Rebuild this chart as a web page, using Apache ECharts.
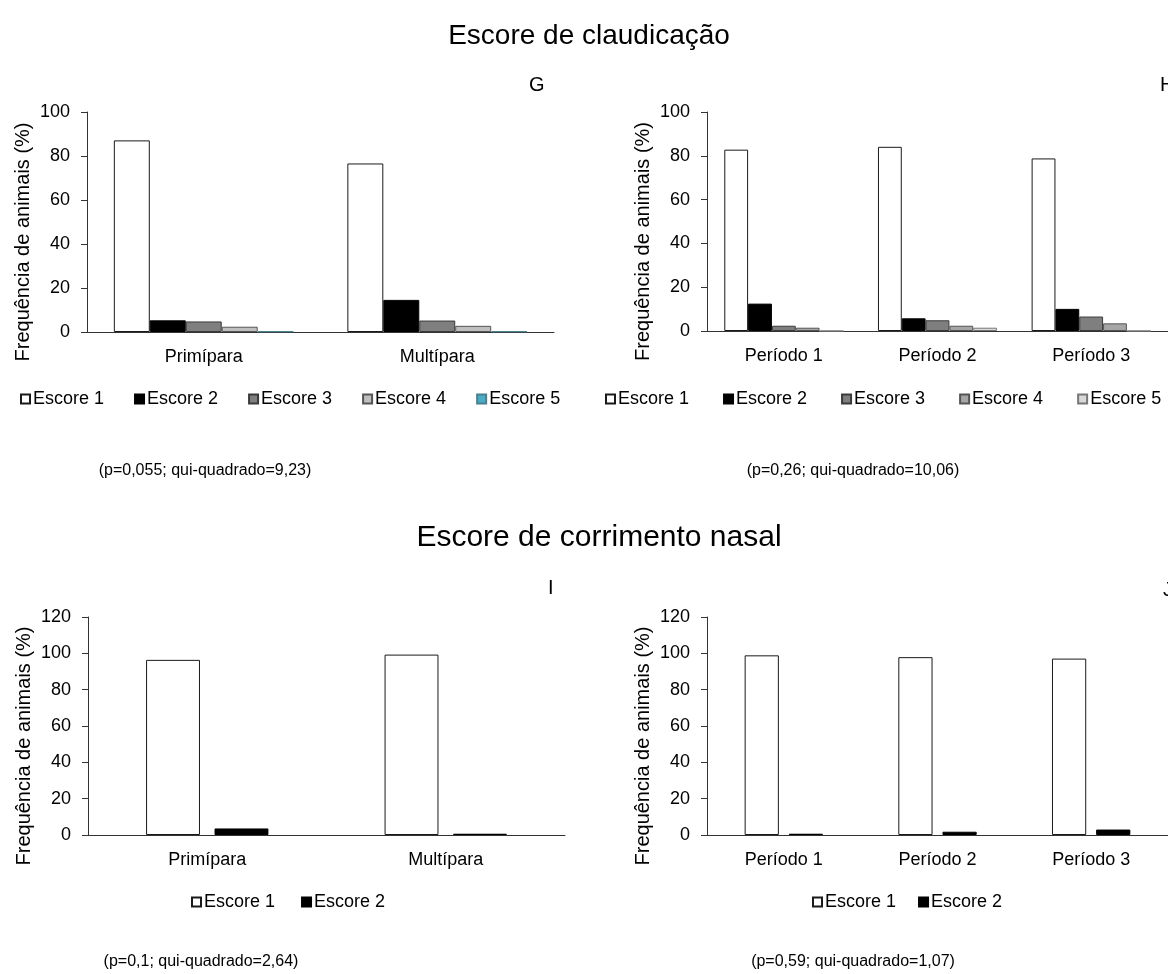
<!DOCTYPE html>
<html>
<head>
<meta charset="utf-8">
<script src="https://cdn.jsdelivr.net/npm/echarts@6/dist/echarts.min.js"></script>
<style>
html,body{margin:0;padding:0;background:#fff;}
#c{width:1168px;height:974px;}
</style>
</head>
<body>
<div id="c"></div>
<script>
// ---- data ----
const catsParidade = ['Primípara', 'Multípara'];
const catsPeriodo = ['Período 1', 'Período 2', 'Período 3'];
const escoresClaud = ['Escore 1', 'Escore 2', 'Escore 3', 'Escore 4', 'Escore 5'];
const escoresNasal = ['Escore 1', 'Escore 2'];
const ticksClaud = [0, 20, 40, 60, 80, 100];
const ticksNasal = [0, 20, 40, 60, 80, 100, 120];

// G: claudicação x paridade (one array per escore, values per category)
const gEscore1 = [87.1, 76.6];
const gEscore2 = [5.3, 14.6];
const gEscore3 = [4.8, 5.2];
const gEscore4 = [2.4, 2.8];
const gEscore5 = [0.3, 0.3];
// H: claudicação x período
const hEscore1 = [82.8, 84.1, 78.8];
const hEscore2 = [12.5, 5.8, 10.1];
const hEscore3 = [2.4, 4.9, 6.6];
const hEscore4 = [1.5, 2.4, 3.5];
const hEscore5 = [0, 1.5, 0];
// I: corrimento nasal x paridade
const iEscore1 = [96.4, 99.3];
const iEscore2 = [3.6, 0.7];
// J: corrimento nasal x período
const jEscore1 = [98.9, 97.9, 97.1];
const jEscore2 = [0.7, 1.8, 3.0];

const panelLetters = ['G', 'H', 'I', 'J'];
const statTexts = ['(p=0,055; qui-quadrado=9,23)', '(p=0,26; qui-quadrado=10,06)',
                   '(p=0,1; qui-quadrado=2,64)', '(p=0,59; qui-quadrado=1,07)'];
const mainTitles = ['Escore de claudicação', 'Escore de corrimento nasal'];
const yName = 'Frequência de animais (%)';

// ---- styles ----
const FONT = '"Liberation Sans", Arial, sans-serif';
const styleG = [
  {color: '#ffffff', borderColor: '#1a1a1a', borderWidth: 1},
  {color: '#000000', borderColor: '#000000', borderWidth: 1},
  {color: '#7f7f7f', borderColor: '#3a3a3a', borderWidth: 1},
  {color: '#bfbfbf', borderColor: '#555555', borderWidth: 1},
  {color: '#4bacc6', borderColor: '#4a7f8f', borderWidth: 1}
];
const styleH = [
  {color: '#ffffff', borderColor: '#1a1a1a', borderWidth: 1},
  {color: '#000000', borderColor: '#000000', borderWidth: 1},
  {color: '#7f7f7f', borderColor: '#3a3a3a', borderWidth: 1},
  {color: '#a6a6a6', borderColor: '#555555', borderWidth: 1},
  {color: '#d9d9d9', borderColor: '#777777', borderWidth: 1}
];
const styleN = [
  {color: '#ffffff', borderColor: '#1a1a1a', borderWidth: 1},
  {color: '#000000', borderColor: '#000000', borderWidth: 1}
];

const grids = [
  {left: 87, top: 112, width: 467, height: 220},
  {left: 707, top: 112, width: 472, height: 219},
  {left: 88, top: 617, width: 477, height: 218},
  {left: 707, top: 617, width: 471, height: 218}
];

function xAx(gi, cats) {
  return {
    type: 'category', gridIndex: gi, data: cats,
    axisLine: {lineStyle: {color: '#333', width: 1}},
    axisTick: {show: false},
    axisLabel: {color: '#000', fontFamily: FONT, fontSize: 18, margin: 16}
  };
}
function yAx(gi, ticks) {
  return {
    type: 'value', gridIndex: gi, min: ticks[0], max: ticks[ticks.length - 1],
    interval: ticks[1] - ticks[0],
    name: yName, nameLocation: 'middle', nameGap: 54,
    nameTextStyle: {color: '#000', fontFamily: FONT, fontSize: 20, padding: [0, 40, 0, 0]},
    axisLine: {show: true, lineStyle: {color: '#333', width: 1}},
    axisTick: {show: true, length: 6, lineStyle: {color: '#333'}},
    splitLine: {show: false},
    axisLabel: {color: '#000', fontFamily: FONT, fontSize: 18, margin: 17}
  };
}

function mkSeries(prefix, names, arrays, styles, gi, catGap, barGap) {
  return names.map((n, k) => ({
    type: 'bar', name: prefix + '|' + n, xAxisIndex: gi, yAxisIndex: gi,
    data: arrays[k], itemStyle: styles[k], barGap: barGap, barCategoryGap: catGap,
    silent: true
  }));
}

const series = [].concat(
  mkSeries('G', escoresClaud, [gEscore1, gEscore2, gEscore3, gEscore4, gEscore5], styleG, 0, '23%', '0%'),
  mkSeries('H', escoresClaud, [hEscore1, hEscore2, hEscore3, hEscore4, hEscore5], styleH, 1, '22.5%', '0%'),
  mkSeries('I', escoresNasal, [iEscore1, iEscore2], styleN, 2, '48.7%', '27%'),
  mkSeries('J', escoresNasal, [jEscore1, jEscore2], styleN, 3, '49%', '29%')
);

function mkLegend(prefix, names, left, top, gap) {
  return {
    left: left, top: top, width: 900, orient: 'horizontal',
    data: names.map(n => prefix + '|' + n),
    formatter: n => n.split('|')[1],
    icon: 'rect', itemWidth: 9, itemHeight: 9, itemGap: gap,
    selectedMode: false,
    textStyle: {color: '#000', fontFamily: FONT, fontSize: 18, padding: [0, 0, 0, -2]}
  };
}

const titleStyle1 = {color: '#000', fontFamily: FONT, fontSize: 28, fontWeight: 'normal'};
const titleStyle2 = {color: '#000', fontFamily: FONT, fontSize: 30, fontWeight: 'normal'};
const smallStyle = {color: '#000', fontFamily: FONT, fontSize: 16, fontWeight: 'normal'};
const letterStyle = {color: '#000', fontFamily: FONT, fontSize: 20, fontWeight: 'normal'};

const option = {
  animation: false,
  backgroundColor: '#fff',
  title: [
    {text: mainTitles[0], left: 584, top: 17, textAlign: 'center', textStyle: titleStyle1},
    {text: mainTitles[1], left: 594, top: 518, textAlign: 'center', textStyle: titleStyle2},
    {text: panelLetters[0], left: 524, top: 70, textStyle: letterStyle},
    {text: panelLetters[1], left: 1155, top: 70, textStyle: letterStyle},
    {text: panelLetters[2], left: 543, top: 573, textStyle: letterStyle},
    {text: panelLetters[3], left: 1158, top: 575, textStyle: letterStyle},
    {text: statTexts[0], left: 200, top: 458, textAlign: 'center', textStyle: smallStyle},
    {text: statTexts[1], left: 848, top: 458, textAlign: 'center', textStyle: smallStyle},
    {text: statTexts[2], left: 196, top: 949, textAlign: 'center', textStyle: smallStyle},
    {text: statTexts[3], left: 848, top: 949, textAlign: 'center', textStyle: smallStyle}
  ],
  legend: [
    mkLegend('G', escoresClaud, 15, 385, 30),
    mkLegend('H', escoresClaud, 600, 385, 34),
    mkLegend('I', escoresNasal, 186, 888, 26),
    mkLegend('J', escoresNasal, 807, 888, 22)
  ],
  grid: grids,
  xAxis: [xAx(0, catsParidade), xAx(1, catsPeriodo), xAx(2, catsParidade), xAx(3, catsPeriodo)],
  yAxis: [yAx(0, ticksClaud), yAx(1, ticksClaud), yAx(2, ticksNasal), yAx(3, ticksNasal)],
  series: series
};

const chart = echarts.init(document.getElementById('c'), null, {renderer: 'canvas'});
chart.setOption(option);
</script>
</body>
</html>
